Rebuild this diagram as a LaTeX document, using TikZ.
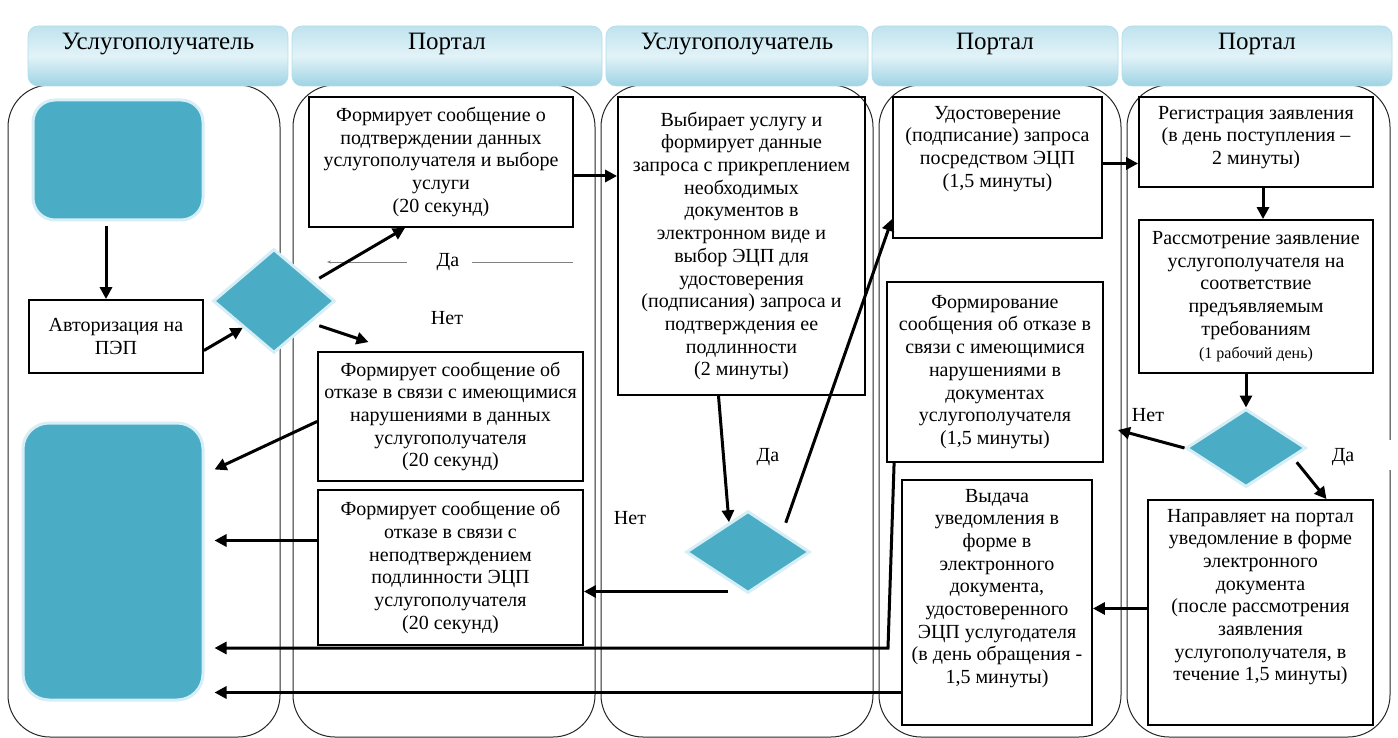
\documentclass[tikz,border=0pt]{standalone}
\usepackage{fontspec}
\setmainfont{Liberation Serif}
\newfontfamily\lanefont{Liberation Serif}
\usetikzlibrary{arrows.meta,shapes.geometric,calc}

\definecolor{stepblue}{HTML}{4BACC6}
\definecolor{rimblue}{HTML}{D6EEF5}
\definecolor{tabtop}{HTML}{BFE3EE}
\definecolor{tabmid}{HTML}{E2F3F8}
\definecolor{tabbot}{HTML}{9ED3E3}

\tikzset{
  lane/.style={draw=black!85, line width=1pt, rounded corners=42pt},
  tab/.style={rounded corners=10pt, top color=tabtop, bottom color=tabbot, middle color=tabmid,
    draw=tabbot!80!white, line width=0.6pt, font=\lanefont\fontsize{25}{28}\selectfont},
  boxline/.style={draw, line width=1.8pt, inner sep=4pt, font=\lanefont\fontsize{20}{22.7}\selectfont},
  procbox/.style={boxline, align=center},
  bluebox/.style={fill=stepblue, draw=rimblue, line width=3pt},
  decision/.style={diamond, fill=stepblue, draw=rimblue, line width=3pt, inner sep=0pt},
  arr/.style={line width=3pt, -{Triangle[length=12pt,width=12pt]}},
  thinline/.style={draw=gray, line width=0.8pt},
  lbl/.style={font=\lanefont\fontsize{20}{23}\selectfont, inner sep=1pt},
}
\newcommand{\toptext}[3]{\parbox[c][#1][t]{#2}{\centering\vspace*{5pt}#3}}

\begin{document}
\begin{tikzpicture}[x=1pt,y=-1pt]

\useasboundingbox (0,0) rectangle (1398,738);

% swimlanes
\draw[lane] (8,85) rectangle (280,737);
\draw[lane] (293,85) rectangle (595,737);
\draw[lane] (601,85) rectangle (873,737);
\draw[lane] (879,85) rectangle (1121,737);
\draw[lane] (1127,85) rectangle (1390,737);
\fill[white] (1385,440) rectangle (1395,470);

% headers
\node[tab, minimum width=260pt, minimum height=60pt] (head1) at (158,56) {\raisebox{30pt}{Услугополучатель}};
\node[tab, minimum width=310pt, minimum height=60pt] (head2) at (447,56) {\raisebox{30pt}{Портал}};
\node[tab, minimum width=262pt, minimum height=60pt] (head3) at (737,56) {\raisebox{30pt}{Услугополучатель}};
\node[tab, minimum width=246pt, minimum height=60pt] (head4) at (995,56) {\raisebox{30pt}{Портал}};
\node[tab, minimum width=270pt, minimum height=60pt] (head5) at (1257,56) {\raisebox{30pt}{Портал}};

% lane 1
\node[bluebox, rounded corners=22pt, minimum width=170pt, minimum height=120pt] (start) at (118,160) {};
\node[procbox, minimum width=174pt, minimum height=73pt] (auth) at (116,336.5) {Авторизация на\\ПЭП};
\node[bluebox, rounded corners=26pt, minimum width=180pt, minimum height=277pt] (finish) at (113,561.5) {};
\node[decision, minimum width=122pt, minimum height=104pt] (check1) at (274,301) {};

% lane 2
\node[procbox, minimum width=264pt, minimum height=130pt] (confirm) at (441,162)
  {Формирует сообщение о\\подтверждении данных\\услугополучателя и выборе\\услуги\\(20 секунд)};
\node[procbox, minimum width=265pt, minimum height=129pt] (refdata) at (450.5,416.5)
  {Формирует сообщение об\\отказе в связи с имеющимися\\нарушениями в данных\\услугополучателя\\(20 секунд)};
\node[procbox, minimum width=265pt, minimum height=155pt] (refsign) at (450.5,567.5)
  {Формирует сообщение об\\отказе в связи с\\неподтверждением\\подлинности ЭЦП\\услугополучателя\\(20 секунд)};

% lane 3
\node[procbox, minimum width=247pt, minimum height=298pt] (choose) at (741.5,246)
  {Выбирает услугу и\\формирует данные\\запроса с прикреплением\\необходимых\\документов в\\электронном виде и\\выбор ЭЦП для\\удостоверения\\(подписания) запроса и\\подтверждения ее\\подлинности\\(2 минуты)};
\node[decision, minimum width=124pt, minimum height=82pt] (check2) at (748,552) {};

% lane 4
\node[boxline] (sign) at (997.5,167.5)
  {\toptext{133pt}{201pt}{Удостоверение\\(подписание) запроса\\посредством ЭЦП\\(1,5 минуты)}};
\node[procbox, minimum width=216pt, minimum height=180pt] (refdocs) at (995,372)
  {Формирование\\сообщения об отказе в\\связи с имеющимися\\нарушениями в\\документах\\услугополучателя\\(1,5 минуты)};
\node[boxline] (issue) at (997,602.5)
  {\toptext{237pt}{182pt}{Выдача\\уведомления в\\форме в\\электронного\\документа,\\удостоверенного\\ЭЦП услугодателя\\(в день обращения -\\1,5 минуты)}};

% lane 5
\node[boxline] (register) at (1256,142)
  {\toptext{82pt}{226pt}{Регистрация заявления\\(в день поступления –\\2 минуты)}};
\node[procbox, minimum width=234pt, minimum height=153pt] (review) at (1256,296.5)
  {Рассмотрение заявление\\услугополучателя на\\соответствие\\предъявляемым\\требованиям\\{\fontsize{16}{23}\selectfont(1 рабочий день)}};
\node[decision, minimum width=120pt, minimum height=78pt] (check3) at (1246,448) {};
\node[boxline] (notify) at (1260.5,612.5)
  {\toptext{217pt}{217pt}{Направляет на портал\\уведомление в форме\\электронного\\документа\\(после рассмотрения\\заявления\\услугополучателя, в\\течение 1,5 минуты)}};

% branch labels
\node[lbl] (yes1) at (448,262) {Да};
\node[lbl] (no1) at (447,318) {Нет};
\node[lbl] (yes2) at (768,457) {Да};
\node[lbl] (no2) at (630,518) {Нет};
\node[lbl] (no3) at (1148,415) {Нет};
\node[lbl] (yes3) at (1343,457) {Да};

\coordinate (tl) at (327,262);
\coordinate (tr) at (573,262);
\draw[thinline, {Stealth[length=4pt,width=3pt]}-] (tl) -- ([xshift=-41pt]yes1.center);
\draw[thinline] ([xshift=24pt]yes1.center) -- (tr);

% connectors
\draw[arr, shorten <=5pt] ([xshift=-12pt]start.south) -- ([xshift=-10pt]auth.north);
\draw[arr] ([yshift=-14pt]auth.east) -- (check1.south west);
\draw[arr] ([xshift=14pt,yshift=-4pt]check1.north east) -- ([xshift=-36pt]confirm.south);
\draw[arr] ([xshift=14pt,yshift=2pt]check1.south east) -- ([xshift=-82pt,yshift=9pt]refdata.north);
\draw[arr] ([yshift=-14pt]confirm.east) -- ([yshift=-14pt]confirm.east -| choose.west);
\draw[arr] ([xshift=-23pt]choose.south) -- ($(check2.north)!0.3!(check2.west)$);
\draw[arr] ([xshift=6pt,yshift=8pt]check2.north east) -- ([yshift=20pt]sign.south west);
\draw[arr] ([xshift=-20pt,yshift=3pt]check2.south) coordinate (n2) -- (n2 -| refsign.east);
\draw[arr] ([yshift=4pt]sign.east) -- ([yshift=4pt]sign.east -| register.west);
\draw[arr] ([xshift=7pt]register.south) -- ([xshift=7pt]review.north);
\draw[arr] ([xshift=-10pt]review.south) -- (check3.north);
\draw[arr] (check3.west) -- ([xshift=14pt,yshift=-58pt]refdocs.east);
\draw[arr] ([xshift=20pt,yshift=6pt]check3.south east) -- ([xshift=66pt]notify.north);
\draw[arr] ([yshift=4pt]notify.west) -- ([yshift=4pt]notify.west -| issue.east);

\draw[arr] ([yshift=-5pt]refdata.west) -- ([xshift=10pt,yshift=92pt]finish.east);
\draw[arr, shorten >=10pt] ([yshift=27pt]refsign.west) -- ([yshift=27pt]refsign.west -| finish.east);
\coordinate (bend1) at (888,648);
\draw[arr, shorten >=10pt] ([xshift=8pt]refdocs.south west) -- (bend1) -- (bend1 -| finish.east);
\draw[arr, shorten >=10pt] ([yshift=-90pt]issue.west) -- ([yshift=-90pt]issue.west -| finish.east);

\end{tikzpicture}
\end{document}
